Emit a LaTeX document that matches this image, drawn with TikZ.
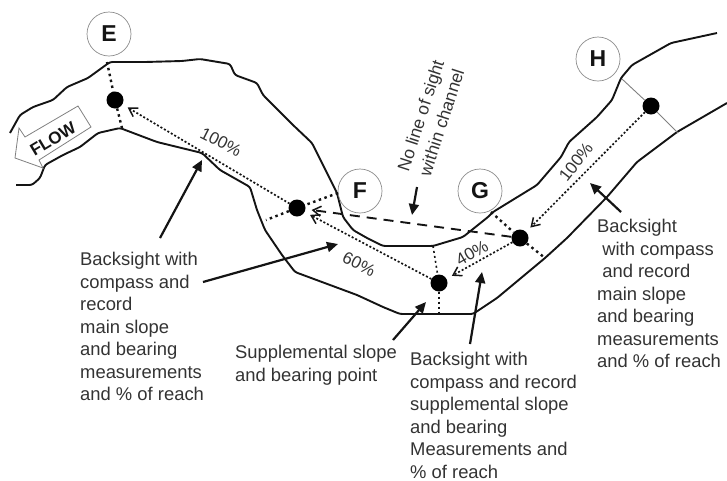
\documentclass[tikz,border=0pt]{standalone}
\usepackage{fontspec}
\setmainfont{Liberation Sans}
\usetikzlibrary{arrows.meta}
\definecolor{ink}{gray}{0.08}
\definecolor{txt}{gray}{0.2}
\tikzset{
 bank/.style={draw=ink,line width=1.9pt,line join=round,rounded corners=2.5pt},
 dotn/.style={circle,fill=black,inner sep=0pt,minimum size=17pt},
 letter/.style={circle,draw=gray!90,line width=0.7pt,minimum size=44pt,inner sep=0pt,font=\fontsize{23}{23}\selectfont\bfseries,text=ink},
 sect/.style={draw=ink,line width=2.4pt,dash pattern=on 2.5pt off 3.5pt},
 barb/.style={-{Straight Barb[length=8pt,width=10pt,line width=1.5pt]},shorten >=6pt},
 sight/.style={draw=ink,line width=1.7pt,dash pattern=on 2pt off 2pt,barb},
 noline/.style={draw=ink,line width=1.9pt,dash pattern=on 10pt off 7pt,barb},
 pointer/.style={draw=ink,line width=2.2pt,-{Triangle[length=11pt,width=10pt]}},
 lab/.style={font=\fontsize{18.4}{22.55}\selectfont,text=txt,align=left,inner sep=0pt,anchor=north west},
 pct/.style={font=\fontsize{17}{17}\selectfont,text=txt,inner sep=0pt},
}
\begin{document}
\begin{tikzpicture}[x=1pt,y=-1pt]
\useasboundingbox (0,0) rectangle (727,480);
% banks
\draw[bank] (10,133)--(20,115)--(33,107)--(53,100)--(67,87)--(88,78)--(110,62)--(145,62)--(182,61)--(200,59)--(230,64)--(235,75)--(257,83)--(263,95)--(283,115)--(293,125)--(312,143)--(322,163)--(337,193)--(343,217)--(353,230)--(367,238)--(383,246)--(433,246)--(463,237)--(488,217)--(493,212)--(537,185)--(561,157)--(569,142)--(597,117)--(612,100)--(621,78)--(632,65)--(671,43)--(717,33);
\draw[bank] (16,185)--(32,185)--(40,178)--(45,165)--(63,155)--(80,147)--(98,133)--(120,128)--(157,142)--(202,153)--(220,170)--(250,187)--(257,210)--(265,230)--(282,255)--(295,272)--(357,295)--(383,307)--(400,314)--(473,314)--(497,298)--(545,258)--(567,238)--(607,197)--(637,162)--(677,132)--(727,103);
% dots
\node[dotn] (dE) at (115,100) {};
\node[dotn] (dF) at (297,208) {};
\node[dotn] (dM) at (439,283) {};
\node[dotn] (dG) at (520,238) {};
\node[dotn] (dH) at (651,106) {};
% letters
\node[letter] (E) at (109,34) {E};
\node[letter] (F) at (360,191) {F};
\node[letter] (G) at (480,191) {G};
\node[letter] (H) at (598,59) {H};
% section ends
\coordinate (e1) at (107,62); \coordinate (e2) at (122,128);
\coordinate (f1) at (338,193); \coordinate (f2) at (266,220);
\coordinate (m1) at (433,246); \coordinate (m2) at (439,314);
\coordinate (g1) at (491,212); \coordinate (g2) at (545,258);
\coordinate (h1) at (622,79); \coordinate (h2) at (678,133);
\draw[sect] (e1)--(dE); \draw[sect] (dE)--(e2);
\draw[sect] (f1)--(dF); \draw[sect] (dF)--(f2);
\draw[sect,line width=1.6pt,dash pattern=on 2pt off 3pt] (m1)--(dM); \draw[sect,line width=1.6pt,dash pattern=on 2pt off 3pt] (dM)--(m2);
\draw[sect] (g1)--(dG); \draw[sect] (dG)--(g2);
\draw[draw=gray,line width=0.9pt] (h1)--(dH)--(h2);
% sights
\draw[sight] (dF)--(dE);
\draw[sight] (dM)--(dF);
\draw[sight] (dH)--(dG);
\draw[sight] (dG)--(dM);
\draw[noline] (dG)--(dF);
% pointers
\coordinate (p1) at (160,238); \coordinate (q1) at (202,160);
\coordinate (p2) at (203,282); \coordinate (q2) at (338,244);
\coordinate (p3) at (393,340); \coordinate (q3) at (426,302);
\coordinate (p4) at (470,344); \coordinate (q4) at (482,272);
\coordinate (p5) at (621,212); \coordinate (q5) at (590,183);
\coordinate (p6) at (417,187); \coordinate (q6) at (412,215);
\foreach \a/\b in {p1/q1,p2/q2,p3/q3,p4/q4,p5/q5,p6/q6} \draw[pointer] (\a)--(\b);
% flow
\draw[gray,line width=0.8pt,line join=miter] (78,106)--(91,127)--(39,160)--(43,168)--(15,158)--(19,128)--(25,137)--cycle;
\node[rotate=31,font=\fontsize{17}{17}\selectfont\bfseries,text=ink,inner sep=0pt] (flow) at (53,139) {FLOW};
% pct
\node[pct,rotate=-27] (a) at (221,142) {100\%};
\node[pct,rotate=-27] (b) at (359,264) {60\%};
\node[pct,rotate=30] (c) at (472,253) {40\%};
\node[pct,rotate=52] (d) at (576,162) {100\%};
% no line
\node[font=\fontsize{17.5}{22}\selectfont,text=txt,align=center,rotate=72,inner sep=0pt] (nl) at (431,119) {No line of sight\\within channel};
% labels
\node[lab] (l1) at (80,252) {Backsight with\\compass and\\record\\main slope\\and bearing\\measurements\\and \% of reach};
\node[lab] (l2) at (235,345) {Supplemental slope\\and bearing point};
\node[lab] (l3) at (410,352) {Backsight with\\compass and record\\supplemental slope\\and bearing\\Measurements and\\\% of reach};
\node[lab] (l4) at (597,219) {Backsight\\\ with compass\\\ and record\\main slope\\and bearing\\measurements\\and \% of reach};
\end{tikzpicture}
\end{document}
